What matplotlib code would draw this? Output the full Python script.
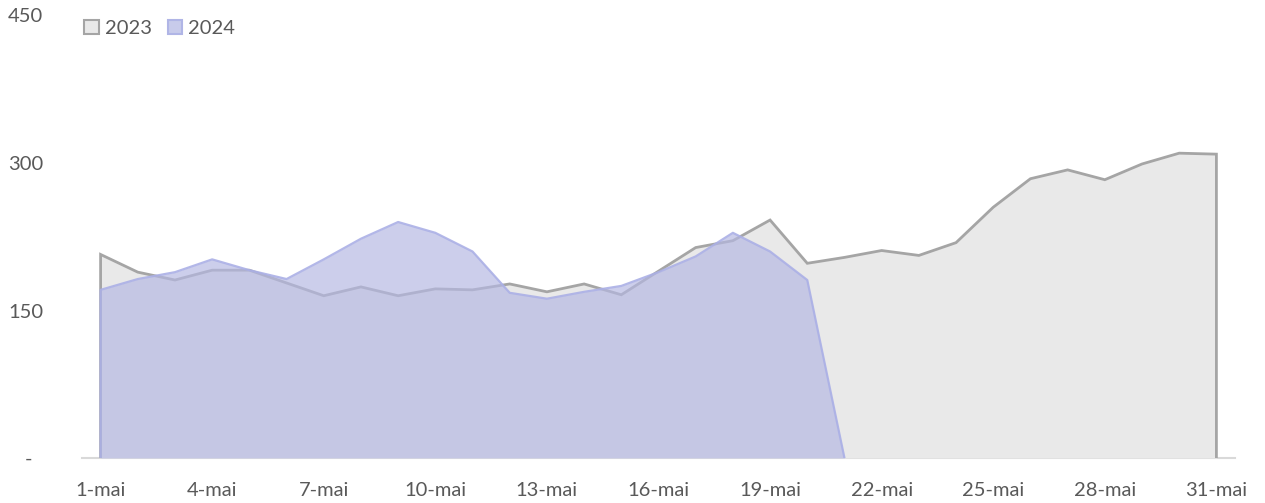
import matplotlib
matplotlib.use("Agg")
import matplotlib.pyplot as plt
from matplotlib.patches import Patch
import numpy as np

plt.rcParams['font.family'] = ['Lato', 'DejaVu Sans']

days = list(range(1, 32))
tick_days = [1, 4, 7, 10, 13, 16, 19, 22, 25, 28, 31]
tick_labels = [f"{d}-mai" for d in tick_days]

values_2023 = [207, 189, 181, 191, 191, 178, 165, 174, 165, 172, 171,
               177, 169, 177, 166, 190, 214, 221, 242, 198, 204,
               211, 206, 219, 255, 284, 293, 283, 299, 310, 309]
days_2024 = list(range(1, 22))
values_2024 = [171, 182, 189, 202, 191, 182, 202, 223, 240, 229, 210,
               168, 162, 169, 175, 189, 205, 229, 210, 181, 0]

y_ticks = [0, 150, 300, 450]
y_labels = ['-  ', '150', '300', '450']

fig = plt.figure(figsize=(12.65, 5.03), dpi=100)
ax = fig.add_axes([82/1265, 1-458/503, (1235-82)/1265, (458-15.5)/503])

c23_fill = '#E9E9E9'
c23_line = '#A5A5A5'
c24_fill = '#B5B8E2'
c24_line = '#ABB0E6'

ax.fill_between(days, values_2023, 0, color=c23_fill, linewidth=0, zorder=1)
ax.plot([days[0]] + days + [days[-1]], [0] + values_2023 + [0],
        color=c23_line, linewidth=2.0, zorder=2, solid_joinstyle='miter')

ax.fill_between(days_2024, values_2024, 0, color=c24_fill, alpha=0.68,
                linewidth=0, zorder=3)
ax.plot([days_2024[0]] + days_2024, [0] + values_2024,
        color=c24_line, linewidth=1.6, zorder=4, alpha=0.9)

ax.set_xlim(0.5, 31.5)
ax.set_ylim(0, 450)
for s in ['top', 'right', 'left']:
    ax.spines[s].set_visible(False)
ax.spines['bottom'].set_color('#D9D9D9')
ax.spines['bottom'].set_linewidth(1.5)
ax.spines['bottom'].set_zorder(0)

ax.set_xticks(tick_days)
ax.set_xticklabels(tick_labels)
ax.set_yticks(y_ticks)
ax.set_yticklabels(y_labels)
ax.tick_params(axis='x', length=0, pad=17, labelsize=14.5, labelcolor='#595959')
ax.tick_params(axis='y', length=0, pad=28, labelsize=14.5, labelcolor='#595959')

handles = [Patch(facecolor=c23_fill, edgecolor=c23_line, linewidth=1.5, label='2023'),
           Patch(facecolor='#C8CBEB', edgecolor='#B0B5E6', linewidth=1.5, label='2024')]
leg = fig.legend(handles=handles, loc='upper left', bbox_to_anchor=(84/1265, 1-20/503),
                 ncol=2, frameon=False, fontsize=14.5, handlelength=0.72,
                 handleheight=0.72, handletextpad=0.3, columnspacing=0.8,
                 borderpad=0, borderaxespad=0)
for t in leg.get_texts():
    t.set_color('#595959')

fig.savefig('out.png', dpi=100)
